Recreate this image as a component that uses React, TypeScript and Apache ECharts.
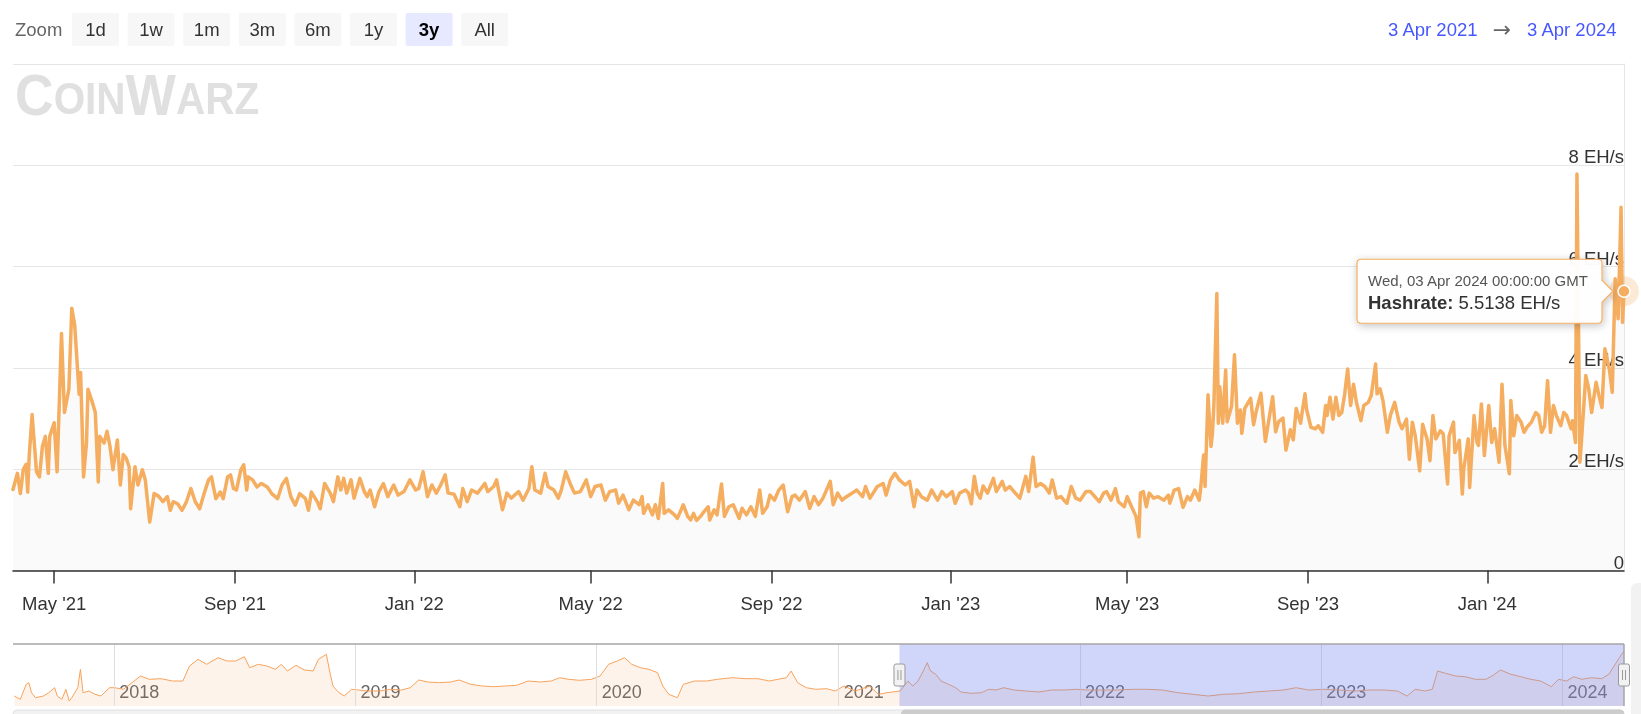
import React, { useEffect, useRef } from 'react';
import * as echarts from 'echarts';

const FONT = '"Liberation Sans", Arial, Helvetica, sans-serif';
const DAY = 86400000;
const RANGE_START = '2021-04-03';
const RANGE_END = '2024-04-03';
const NAV_START = '2017-08-01';
const SERIES_NAME = 'Hashrate';
const UNIT = 'EH/s';
const LINE_COLOR = '#f5ad5f';

const zoomButtons = ['1d', '1w', '1m', '3m', '6m', '1y', '3y', 'All'];
const selectedZoom = '3y';

const xTickDates = ['2021-05-01', '2021-09-01', '2022-01-01', '2022-05-01', '2022-09-01', '2023-01-01', '2023-05-01', '2023-09-01', '2024-01-01'];
const xTickLabels = ["May '21", "Sep '21", "Jan '22", "May '22", "Sep '22", "Jan '23", "May '23", "Sep '23", "Jan '24"];

const yMax = 10;
const yInterval = 2;

const navYearDates = ['2018-01-01', '2019-01-01', '2020-01-01', '2021-01-01', '2022-01-01', '2023-01-01', '2024-01-01'];
const navYearLabels = ['2018', '2019', '2020', '2021', '2022', '2023', '2024'];

// [days after RANGE_START, hashrate EH/s]
const mainSamples: [number, number][] = [
  [0, 1.6], [3, 1.92], [5, 1.52], [7, 2.0], [9, 2.1], [10, 1.55], [11, 2.25], [13, 3.08], [16, 1.95], [18, 1.85],
  [20, 2.45], [22, 2.65], [24, 1.92], [25, 2.65], [28, 2.92], [30, 1.95], [33, 4.68], [35, 3.12], [38, 3.58], [40, 5.18],
  [42, 4.84], [45, 3.48], [46, 3.91], [48, 1.85], [50, 2.52], [51, 3.58], [54, 3.32], [56, 3.12], [58, 1.75], [59, 2.65],
  [62, 2.52], [64, 2.75], [66, 2.45], [68, 1.99], [71, 2.58], [73, 1.69], [75, 2.29], [77, 2.22], [79, 2.05], [80, 1.22],
  [83, 2.05], [85, 1.69], [88, 1.99], [90, 1.79], [93, 0.96], [96, 1.52], [99, 1.47], [102, 1.36], [105, 1.46], [107, 1.19],
  [109, 1.36], [112, 1.32], [115, 1.19], [118, 1.36], [121, 1.62], [124, 1.36], [127, 1.22], [130, 1.52], [133, 1.79], [135, 1.85],
  [138, 1.42], [141, 1.55], [143, 1.42], [146, 1.85], [148, 1.89], [150, 1.62], [152, 1.59], [155, 1.99], [157, 2.09], [159, 1.59],
  [160, 1.85], [163, 1.79], [166, 1.65], [169, 1.72], [173, 1.65], [176, 1.52], [180, 1.42], [183, 1.69], [186, 1.82], [189, 1.46],
  [192, 1.29], [195, 1.52], [199, 1.42], [201, 1.19], [203, 1.55], [207, 1.36], [209, 1.22], [212, 1.72], [216, 1.52], [218, 1.36],
  [221, 1.85], [223, 1.59], [225, 1.82], [227, 1.53], [230, 1.79], [232, 1.43], [236, 1.82], [239, 1.56], [241, 1.46], [243, 1.59],
  [246, 1.26], [249, 1.56], [252, 1.72], [255, 1.46], [259, 1.69], [262, 1.49], [266, 1.56], [270, 1.79], [274, 1.59], [276, 1.62],
  [279, 1.95], [282, 1.46], [285, 1.69], [288, 1.53], [291, 1.69], [294, 1.89], [296, 1.53], [300, 1.51], [304, 1.26], [306, 1.62],
  [309, 1.36], [312, 1.59], [316, 1.53], [321, 1.72], [323, 1.56], [327, 1.66], [329, 1.79], [333, 1.2], [336, 1.53], [339, 1.43],
  [344, 1.56], [347, 1.39], [351, 1.62], [353, 2.05], [355, 1.59], [359, 1.53], [362, 1.92], [364, 1.66], [368, 1.59], [371, 1.43],
  [373, 1.59], [376, 1.95], [379, 1.72], [382, 1.53], [386, 1.56], [390, 1.79], [393, 1.46], [396, 1.66], [400, 1.69], [403, 1.39],
  [406, 1.56], [410, 1.59], [412, 1.33], [415, 1.49], [419, 1.2], [422, 1.39], [426, 1.3], [428, 1.46], [429, 1.13], [432, 1.3],
  [435, 1.1], [437, 1.3], [439, 1.03], [442, 1.72], [443, 1.13], [446, 1.2], [450, 1.1], [452, 1.03], [456, 1.3], [459, 1.07],
  [461, 1.0], [463, 1.13], [465, 0.99], [468, 1.08], [470, 1.16], [473, 1.26], [474, 1.0], [477, 1.2], [479, 1.1], [482, 1.71],
  [484, 1.07], [487, 1.26], [490, 1.3], [494, 1.03], [496, 1.23], [499, 1.1], [502, 1.26], [505, 1.07], [508, 1.59], [510, 1.13],
  [513, 1.26], [515, 1.49], [518, 1.39], [521, 1.59], [524, 1.69], [527, 1.16], [530, 1.46], [532, 1.49], [535, 1.39], [539, 1.56],
  [542, 1.23], [545, 1.46], [548, 1.3], [551, 1.43], [556, 1.76], [558, 1.3], [561, 1.53], [564, 1.39], [567, 1.46], [571, 1.53],
  [574, 1.59], [578, 1.46], [580, 1.66], [583, 1.43], [588, 1.66], [592, 1.72], [594, 1.49], [597, 1.79], [600, 1.92], [603, 1.79],
  [607, 1.69], [610, 1.76], [613, 1.26], [615, 1.59], [618, 1.46], [622, 1.39], [625, 1.59], [629, 1.39], [632, 1.56], [635, 1.46],
  [639, 1.56], [641, 1.33], [644, 1.53], [648, 1.59], [650, 1.53], [652, 1.32], [654, 1.86], [656, 1.53], [658, 1.43], [660, 1.67],
  [663, 1.53], [667, 1.82], [669, 1.56], [673, 1.76], [675, 1.59], [678, 1.66], [681, 1.56], [685, 1.43], [689, 1.86], [691, 1.56],
  [694, 2.24], [696, 1.66], [699, 1.72], [702, 1.66], [705, 1.53], [707, 1.79], [710, 1.43], [713, 1.46], [715, 1.39], [717, 1.33],
  [720, 1.66], [723, 1.43], [726, 1.39], [730, 1.56], [733, 1.56], [736, 1.46], [739, 1.36], [742, 1.53], [744, 1.56], [747, 1.39],
  [750, 1.62], [752, 1.36], [756, 1.26], [758, 1.46], [761, 1.26], [764, 1.07], [766, 0.67], [767, 1.53], [769, 1.56], [771, 1.26],
  [773, 1.53], [776, 1.43], [779, 1.46], [783, 1.39], [786, 1.49], [787, 1.33], [790, 1.59], [793, 1.62], [796, 1.25], [799, 1.46],
  [801, 1.39], [804, 1.59], [807, 1.39], [808, 1.62], [810, 2.28], [811, 1.66], [813, 3.47], [815, 2.45], [816, 2.71], [817, 3.27],
  [819, 5.47], [820, 2.91], [821, 3.63], [823, 2.91], [825, 3.96], [826, 2.94], [829, 3.24], [831, 4.26], [833, 2.91], [835, 3.17],
  [836, 2.71], [838, 3.2], [842, 3.4], [844, 2.88], [846, 3.17], [849, 3.5], [852, 2.55], [854, 2.91], [857, 3.43], [859, 2.74],
  [861, 2.94], [864, 3.01], [866, 2.38], [869, 2.78], [871, 2.58], [873, 3.2], [876, 2.91], [877, 3.12], [879, 3.49], [880, 3.19],
  [883, 2.83], [886, 2.8], [888, 2.86], [891, 2.73], [893, 3.26], [894, 3.06], [896, 3.42], [898, 2.99], [900, 3.42], [902, 3.06],
  [904, 3.12], [906, 3.49], [908, 3.98], [910, 3.26], [912, 3.68], [914, 3.32], [917, 2.96], [919, 3.26], [922, 3.32], [924, 3.45],
  [927, 4.08], [928, 3.49], [930, 3.59], [932, 3.36], [935, 2.73], [937, 3.06], [940, 3.32], [943, 2.93], [945, 2.8], [948, 2.99],
  [950, 2.2], [952, 2.93], [954, 2.66], [957, 1.97], [959, 2.89], [962, 2.6], [964, 2.17], [966, 3.06], [968, 2.6], [971, 2.76],
  [973, 2.7], [976, 1.71], [977, 2.66], [980, 2.93], [981, 2.33], [984, 2.57], [986, 1.51], [987, 2.01], [990, 2.6], [991, 1.64],
  [994, 3.06], [996, 2.53], [997, 2.47], [999, 3.29], [1001, 2.27], [1004, 3.26], [1006, 2.53], [1008, 2.8], [1011, 2.14], [1013, 3.68],
  [1015, 2.47], [1018, 1.91], [1019, 3.36], [1021, 2.66], [1023, 3.06], [1026, 2.93], [1028, 2.73], [1030, 2.83], [1033, 2.93], [1036, 3.12],
  [1038, 3.06], [1040, 2.73], [1042, 2.86], [1044, 3.75], [1046, 2.73], [1048, 3.26], [1050, 3.06], [1053, 2.86], [1055, 3.12], [1057, 3.06],
  [1060, 2.8], [1061, 2.96], [1063, 2.53], [1064, 7.83], [1066, 2.14], [1067, 2.53], [1070, 3.85], [1072, 3.59], [1074, 3.12], [1077, 3.72],
  [1079, 3.45], [1081, 3.22], [1083, 4.38], [1086, 3.98], [1088, 3.52], [1090, 5.76], [1092, 4.97], [1094, 7.17], [1095, 4.9], [1096, 5.5138],
];

// [days after NAV_START, grouped hashrate EH/s shown in the navigator]
const navSamples: [number, number][] = [
  [2, 1.0], [11, 0.67], [20, 2.17], [24, 2.33], [28, 1.33], [34, 0.83], [46, 1.0], [54, 1.33], [63, 1.83], [67, 1.0],
  [74, 0.67], [80, 1.67], [85, 0.5], [89, 0.83], [98, 1.83], [102, 3.67], [106, 1.33], [115, 1.5], [124, 1.17], [133, 1.0],
  [146, 1.83], [154, 1.83], [167, 1.67], [180, 2.33], [193, 3.0], [206, 2.67], [224, 2.73], [241, 2.5], [257, 2.5], [267, 4.0],
  [280, 4.67], [293, 4.17], [310, 4.83], [324, 4.5], [337, 4.5], [350, 4.93], [358, 3.83], [371, 4.17], [384, 4.0], [397, 3.67],
  [406, 4.17], [415, 3.5], [428, 4.07], [441, 3.6], [454, 3.5], [462, 4.67], [474, 5.17], [480, 3.17], [484, 2.0], [493, 1.33],
  [501, 1.0], [512, 1.67], [523, 1.6], [536, 1.5], [554, 1.5], [571, 1.67], [588, 1.6], [601, 1.83], [614, 2.6], [627, 2.4],
  [645, 2.33], [662, 2.4], [675, 2.6], [692, 2.17], [710, 2.0], [727, 1.93], [745, 2.0], [762, 2.07], [779, 2.5], [797, 2.4],
  [814, 2.5], [827, 2.83], [840, 2.67], [857, 2.57], [875, 2.67], [888, 3.0], [901, 4.17], [914, 4.5], [925, 4.83], [936, 4.17],
  [949, 3.83], [962, 3.67], [975, 3.33], [983, 2.0], [992, 1.17], [1005, 0.83], [1014, 2.17], [1031, 2.5], [1049, 2.5], [1066, 2.67],
  [1088, 2.83], [1109, 2.73], [1127, 2.73], [1144, 2.5], [1157, 2.67], [1170, 2.83], [1177, 3.5], [1187, 2.33], [1200, 1.83], [1214, 1.67],
  [1231, 1.73], [1244, 1.5], [1257, 2.0], [1274, 1.5], [1296, 2.0], [1309, 1.17], [1322, 1.33], [1342, 1.5], [1354, 2.5], [1361, 2.0],
  [1369, 2.5], [1377, 3.5], [1383, 4.33], [1388, 3.5], [1396, 3.17], [1404, 2.5], [1415, 2.17], [1426, 1.83], [1434, 1.4], [1449, 1.27],
  [1465, 1.33], [1476, 1.67], [1487, 1.6], [1499, 1.83], [1514, 1.6], [1533, 1.5], [1552, 1.4], [1571, 1.6], [1590, 1.6], [1609, 1.67],
  [1625, 1.6], [1648, 1.6], [1671, 1.6], [1693, 1.67], [1716, 1.67], [1739, 1.6], [1762, 1.33], [1785, 1.17], [1808, 1.0], [1831, 1.17],
  [1854, 1.23], [1877, 1.4], [1900, 1.5], [1922, 1.6], [1941, 1.83], [1960, 1.6], [1983, 1.67], [2006, 1.6], [2029, 1.5], [2052, 1.6],
  [2075, 1.6], [2094, 1.5], [2109, 1.0], [2121, 1.67], [2136, 1.5], [2147, 1.67], [2155, 3.5], [2167, 3.27], [2182, 3.0], [2197, 2.93],
  [2212, 2.67], [2228, 2.67], [2239, 3.07], [2250, 3.6], [2266, 3.17], [2281, 2.93], [2296, 2.67], [2311, 2.5], [2327, 1.93], [2338, 2.67],
  [2350, 2.5], [2361, 2.93], [2373, 2.67], [2388, 2.83], [2403, 2.73], [2414, 3.17], [2422, 4.0], [2430, 4.83], [2437, 5.5],
];
const navYMax = 6.2;

const ts = (s: string) => Date.parse(s + 'T00:00:00Z');
const MONTHS = ['Jan', 'Feb', 'Mar', 'Apr', 'May', 'Jun', 'Jul', 'Aug', 'Sep', 'Oct', 'Nov', 'Dec'];
const fmtDate = (t: number) => {
  const d = new Date(t);
  return `${d.getUTCDate()} ${MONTHS[d.getUTCMonth()]} ${d.getUTCFullYear()}`;
};

const CALLOUT_D = 'M4 0 L241 0 Q245 0 245 4 L245 21 L256 32 L245 43 L245 60 Q245 64 241 64 L4 64 Q0 64 0 60 L0 4 Q0 0 4 0 Z';
echarts.graphic.registerShape('callout', echarts.graphic.extendPath(CALLOUT_D, {}));

export default function App() {
  const ref = useRef<HTMLDivElement>(null);

  useEffect(() => {
    const el = ref.current;
    if (!el) return;
    const chart = echarts.init(el, null, { renderer: 'svg' });

    const startTs = ts(RANGE_START);
    const endTs = ts(RANGE_END);
    const navStartTs = ts(NAV_START);
    const mainData = mainSamples.map(([d, v]) => [startTs + d * DAY, v]);
    const navData = navSamples.map(([d, v]) => [navStartTs + d * DAY, v]);
    const xTickTs = xTickDates.map(ts);
    const navYearTs = navYearDates.map(ts);
    const last = mainData[mainData.length - 1];

    const option: any = {
      animation: false,
      textStyle: { fontFamily: FONT },
      grid: [
        { left: 13, right: 17, top: 64, height: 506.6 },
        { left: 13, right: 17, top: 644, height: 62 },
      ],
      xAxis: [
        {
          type: 'value', gridIndex: 0, min: startTs, max: endTs,
          axisLine: { show: true, lineStyle: { color: '#333', width: 1.5 } },
          axisTick: { show: true, length: 13, customValues: xTickTs, lineStyle: { color: '#333', width: 1.5 } },
          axisLabel: {
            customValues: xTickTs,
            formatter: (v: number) => { const i = xTickTs.indexOf(v); return i >= 0 ? xTickLabels[i] : ''; },
            color: '#333', fontSize: 18.5, margin: 23, fontFamily: FONT,
          },
          splitLine: { show: false },
        },
        {
          type: 'value', gridIndex: 1, min: navStartTs, max: endTs,
          axisLine: { show: false }, axisTick: { show: false },
          axisLabel: {
            inside: true, customValues: navYearTs,
            formatter: (v: number) => { const i = navYearTs.indexOf(v); return i >= 0 ? navYearLabels[i] : ''; },
            align: 'left', verticalAlign: 'bottom', margin: 5, padding: [0, 0, 0, 5],
            color: '#666', fontSize: 18, fontFamily: FONT,
          },
          splitLine: { show: false },
        },
      ],
      yAxis: [
        {
          type: 'value', gridIndex: 0, position: 'right', min: 0, max: yMax, interval: yInterval,
          axisLine: { show: true, lineStyle: { color: '#e6e6e6', width: 1 } },
          axisTick: { show: false },
          axisLabel: {
            inside: true, margin: 0, showMaxLabel: false, align: 'right', verticalAlign: 'bottom',
            padding: [0, 0, -1, 0],
            formatter: (v: number) => (v === 0 ? '0' : `${v} ${UNIT}`),
            color: '#333', fontSize: 18.5, fontFamily: FONT,
          },
          splitLine: { show: true, lineStyle: { color: '#e6e6e6', width: 1 } },
        },
        { type: 'value', gridIndex: 1, min: 0, max: navYMax, show: false },
      ],
      series: [
        {
          name: SERIES_NAME, type: 'line', xAxisIndex: 0, yAxisIndex: 0, data: mainData,
          showSymbol: false, symbol: 'none', z: 3,
          lineStyle: { color: LINE_COLOR, width: 3.5, cap: 'round', join: 'round' },
          areaStyle: { color: 'rgba(90,60,30,0.035)' },
          markPoint: {
            silent: true, symbol: 'circle', label: { show: false },
            data: [
              { coord: last, symbolSize: 30, itemStyle: { color: 'rgba(245,173,95,0.25)' } },
              { coord: last, symbolSize: 12, itemStyle: { color: LINE_COLOR, borderColor: '#ffffff', borderWidth: 1.5 } },
            ],
          },
        },
        {
          name: 'Navigator', type: 'line', xAxisIndex: 1, yAxisIndex: 1, data: navData,
          showSymbol: false, symbol: 'none', silent: true,
          lineStyle: { color: '#f7a35c', width: 1 },
          areaStyle: { color: 'rgba(247,163,92,0.18)' },
          markLine: {
            silent: true, symbol: ['none', 'none'], label: { show: false },
            lineStyle: { color: '#dedede', width: 1, type: 'solid' },
            data: navYearTs.map((t) => ({ xAxis: t })),
          },
        },
      ],
    };
    chart.setOption(option);

    const [px, py] = chart.convertToPixel({ xAxisIndex: 0, yAxisIndex: 0 }, last) as number[];
    const [selL, navBottom] = chart.convertToPixel({ xAxisIndex: 1, yAxisIndex: 1 }, [startTs, 0]) as number[];
    const [selR, navTop] = chart.convertToPixel({ xAxisIndex: 1, yAxisIndex: 1 }, [endTs, navYMax]) as number[];
    const [navL] = chart.convertToPixel({ xAxisIndex: 1, yAxisIndex: 1 }, [navStartTs, 0]) as number[];
    const navMid = (navTop + navBottom) / 2;

    const els: any[] = [];
    // range selector
    els.push({ type: 'text', x: 15, y: 29.5, style: { text: 'Zoom', fontSize: 18.5, fontFamily: FONT, fill: '#666', verticalAlign: 'middle' } });
    zoomButtons.forEach((b, i) => {
      const bx = 72 + i * 55.6;
      const sel = b === selectedZoom;
      els.push({ type: 'rect', x: bx, y: 13, shape: { width: 47, height: 33, r: 2 }, style: { fill: sel ? '#e6e9ff' : '#f7f7f7' } });
      els.push({
        type: 'text', x: bx + 23.5, y: 29.5,
        style: { text: b, fontSize: 18.5, fontFamily: FONT, fontWeight: sel ? 'bold' : 'normal', fill: sel ? '#000' : '#333', align: 'center', verticalAlign: 'middle' },
      });
    });
    // date range
    els.push({ type: 'text', x: 1388, y: 29.5, style: { text: fmtDate(startTs), fontSize: 18.5, fontFamily: FONT, fill: '#4657ff', verticalAlign: 'middle' } });
    els.push({ type: 'text', x: 1502, y: 29, style: { text: '→', fontSize: 22, fontFamily: '"DejaVu Sans", sans-serif', fill: '#666', align: 'center', verticalAlign: 'middle' } });
    els.push({ type: 'text', x: 1527, y: 29.5, style: { text: fmtDate(endTs), fontSize: 18.5, fontFamily: FONT, fill: '#4657ff', verticalAlign: 'middle' } });

    // watermark logo
    els.push({
      type: 'group', x: 15, y: 0, scaleX: 0.92,
      children: [
        { type: 'text', x: 0, y: 124, style: { text: 'C', fontSize: 58, fontWeight: 'bold', fontFamily: FONT, fill: '#e0e0e0', verticalAlign: 'bottom' } },
        { type: 'text', x: 42, y: 121, style: { text: 'OIN', fontSize: 44, fontWeight: 'bold', fontFamily: FONT, fill: '#e0e0e0', verticalAlign: 'bottom' } },
        { type: 'text', x: 120, y: 124, style: { text: 'W', fontSize: 58, fontWeight: 'bold', fontFamily: FONT, fill: '#e0e0e0', verticalAlign: 'bottom' } },
        { type: 'text', x: 175, y: 121, style: { text: 'ARZ', fontSize: 44, fontWeight: 'bold', fontFamily: FONT, fill: '#e0e0e0', verticalAlign: 'bottom' } },
      ],
    });

    // navigator mask, outline, handles, scrollbar
    els.push({ type: 'rect', z: 10, silent: true, shape: { x: selL, y: navTop, width: selR - selL, height: navBottom - navTop }, style: { fill: 'rgba(112,131,240,0.33)' } });
    els.push({ type: 'line', z: 11, shape: { x1: navL, y1: navTop, x2: selR, y2: navTop }, style: { stroke: '#a6a6a6', lineWidth: 1.5 } });
    els.push({ type: 'line', z: 11, shape: { x1: selR, y1: navTop, x2: selR, y2: navBottom }, style: { stroke: '#a6a6a6', lineWidth: 1.5 } });
    [selL, selR].forEach((hx) => {
      els.push({
        type: 'group', x: hx, y: navMid, z: 12,
        children: [
          { type: 'rect', shape: { x: -5.5, y: -11, width: 11, height: 22, r: 2 }, style: { fill: '#f2f2f2', stroke: '#999', lineWidth: 1 }, z: 12 },
          { type: 'line', shape: { x1: -1.5, y1: -5, x2: -1.5, y2: 5 }, style: { stroke: '#999', lineWidth: 1 }, z: 13 },
          { type: 'line', shape: { x1: 1.5, y1: -5, x2: 1.5, y2: 5 }, style: { stroke: '#999', lineWidth: 1 }, z: 13 },
        ],
      });
    });
    els.push({ type: 'rect', shape: { x: navL, y: 710, width: selR - navL, height: 14, r: 4 }, style: { fill: '#f2f2f2', stroke: '#e0e0e0', lineWidth: 1 } });
    els.push({ type: 'rect', shape: { x: selL + 2, y: 710, width: selR - selL - 2, height: 14, r: 4 }, style: { fill: '#cccccc', stroke: '#cccccc', lineWidth: 1 } });
    // right-edge page element
    els.push({ type: 'rect', shape: { x: 1631, y: 583, width: 20, height: 140, r: 6 }, style: { fill: '#f2f2f2' } });

    // tooltip
    const bx = px - 267;
    const by = py - 32;
    els.push({
      type: 'callout', x: bx, y: by, z: 20,
      style: { fill: 'rgba(255,255,255,0.96)', stroke: LINE_COLOR, lineWidth: 1.2, shadowBlur: 8, shadowColor: 'rgba(0,0,0,0.25)', shadowOffsetX: 1, shadowOffsetY: 2 },
    });
    els.push({
      type: 'text', x: bx + 11, y: by + 21, z: 21,
      style: { text: new Date(last[0]).toUTCString(), fontSize: 15, fontFamily: FONT, fill: '#555', verticalAlign: 'middle' },
    });
    els.push({
      type: 'text', x: bx + 11, y: by + 43, z: 21,
      style: {
        text: `{b|${SERIES_NAME}:} ${last[1].toFixed(4)} ${UNIT}`,
        fontSize: 18.5, fontFamily: FONT, fill: '#333', verticalAlign: 'middle',
        rich: { b: { fontWeight: 'bold', fontSize: 18.5, fontFamily: FONT, fill: '#333' } },
      },
    });

    chart.setOption({ graphic: { elements: els } });

    return () => chart.dispose();
  }, []);

  return <div ref={ref} style={{ position: 'fixed', left: 0, top: 0, width: 1641, height: 714 }} />;
}
